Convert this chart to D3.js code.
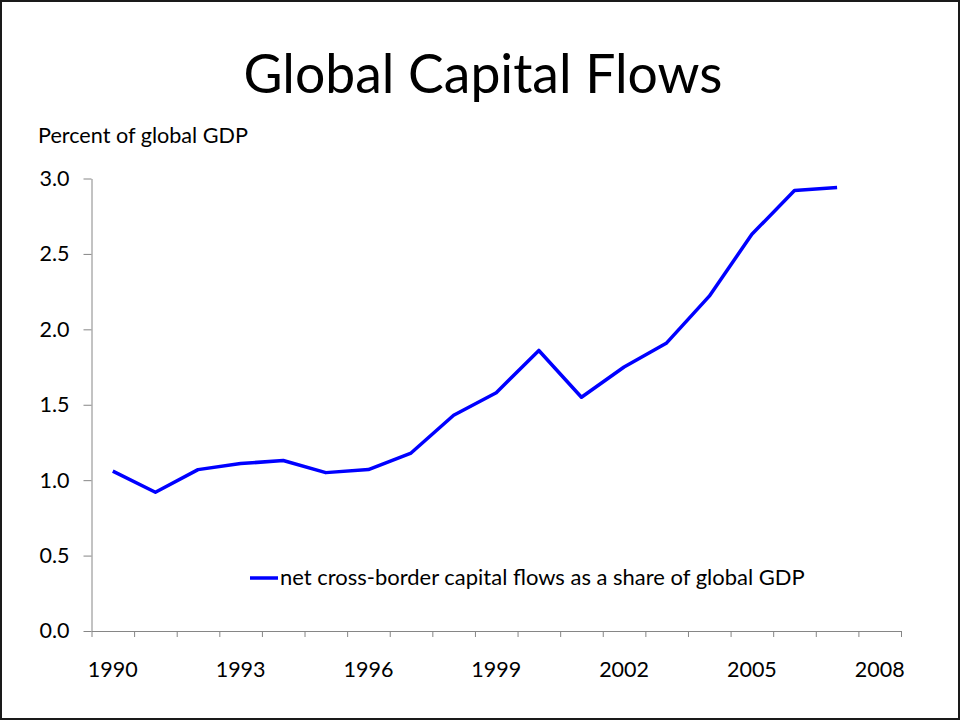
<!DOCTYPE html>
<html>
<head>
<meta charset="utf-8">
<script src="https://cdnjs.cloudflare.com/ajax/libs/d3/7.8.5/d3.min.js"></script>
<style>
  body { margin: 0; background: #fff; }
  svg { display: block; font-family: Lato, "Open Sans", sans-serif; }
</style>
</head>
<body>
<div id="chart"></div>
<script>
// categories on the x axis (one band per year)
var years = ["1990", "1991", "1992", "1993", "1994", "1995", "1996", "1997", "1998", "1999",
             "2000", "2001", "2002", "2003", "2004", "2005", "2006", "2007", "2008"];
// net cross-border capital flows, % of global GDP (1990-2007)
var flows = [1.06, 0.92, 1.07, 1.11, 1.13, 1.05, 1.07, 1.18, 1.43, 1.58,
             1.86, 1.55, 1.75, 1.91, 2.22, 2.63, 2.92, 2.94];
var yTicks = [0, 0.5, 1, 1.5, 2, 2.5, 3];
var xLabels = ["1990", "1993", "1996", "1999", "2002", "2005", "2008"];
var seriesName = "net cross-border capital flows as a share of global GDP";

var width = 960, height = 721;
var margin = {top: 178.5, right: 59, bottom: 90, left: 91.5};

var svg = d3.select("#chart").append("svg")
    .attr("width", width)
    .attr("height", height);

svg.append("rect")
    .attr("x", 1).attr("y", 1)
    .attr("width", width - 2).attr("height", height - 3)
    .attr("fill", "#fff")
    .attr("stroke", "#1a1a1a")
    .attr("stroke-width", 2);

var x = d3.scaleBand()
    .domain(years)
    .range([margin.left, width - margin.right]);

// edges of the bands, for the tick marks
var xEdge = d3.scaleLinear()
    .domain([0, years.length])
    .range([margin.left, width - margin.right]);

var y = d3.scaleLinear()
    .domain([0, 3])
    .range([631, margin.top]);

// shrink/grow a text to a target width
function fitWidth(sel, target) {
    var w = sel.node().getComputedTextLength();
    var fs = parseFloat(sel.attr("font-size"));
    sel.attr("font-size", fs * target / w);
}

// title
var title = svg.append("text")
    .attr("x", 483)
    .attr("y", 93)
    .attr("text-anchor", "middle")
    .attr("font-size", 56)
    .text("Global Capital Flows");
fitWidth(title, 479);

var ylab = svg.append("text")
    .attr("x", 38)
    .attr("y", 143)
    .attr("font-size", 19)
    .text("Percent of global GDP");
fitWidth(ylab, 210);

// y axis
var yAxis = svg.append("g")
    .attr("transform", "translate(" + margin.left + ",0)")
    .call(d3.axisLeft(y).tickValues(yTicks).tickFormat(d3.format(".1f")).tickSize(8).tickPadding(14).tickSizeOuter(0));
yAxis.select(".domain").attr("stroke", "#868686");
yAxis.selectAll(".tick line").attr("stroke", "#868686");
yAxis.selectAll(".tick text")
    .attr("fill", "#000")
    .attr("font-size", 21.5)
    .attr("font-family", "Lato, sans-serif");

// x axis: tick marks at band edges
var xAxis = svg.append("g")
    .attr("transform", "translate(0," + y(0) + ")")
    .call(d3.axisBottom(xEdge).tickValues(d3.range(years.length + 1)).tickFormat("").tickSize(6).tickSizeOuter(0));
xAxis.select(".domain").attr("stroke", "#868686");
xAxis.selectAll(".tick line").attr("stroke", "#868686");

// x labels at band centres, every third year
var xLab = svg.append("g")
    .attr("transform", "translate(0," + y(0) + ")")
    .call(d3.axisBottom(x).tickValues(xLabels).tickSize(0).tickPadding(31));
xLab.select(".domain").remove();
xLab.selectAll(".tick text")
    .attr("fill", "#000")
    .attr("font-size", 21.5)
    .attr("font-family", "Lato, sans-serif");

// the series
var line = d3.line()
    .x(function(d, i) { return x(years[i]) + x.bandwidth() / 2; })
    .y(function(d) { return y(d); });

svg.append("path")
    .datum(flows)
    .attr("d", line)
    .attr("fill", "none")
    .attr("stroke", "#0000ff")
    .attr("stroke-width", 3.5)
    .attr("stroke-linejoin", "round");

// legend
var legend = svg.append("g").attr("transform", "translate(250,578)");
legend.append("line")
    .attr("x1", 0).attr("x2", 28)
    .attr("y1", 0).attr("y2", 0)
    .attr("stroke", "#0000ff")
    .attr("stroke-width", 3.5);
var legText = legend.append("text")
    .attr("x", 30)
    .attr("y", 7)
    .attr("font-size", 19)
    .text(seriesName);
fitWidth(legText, 525);
</script>
</body>
</html>
